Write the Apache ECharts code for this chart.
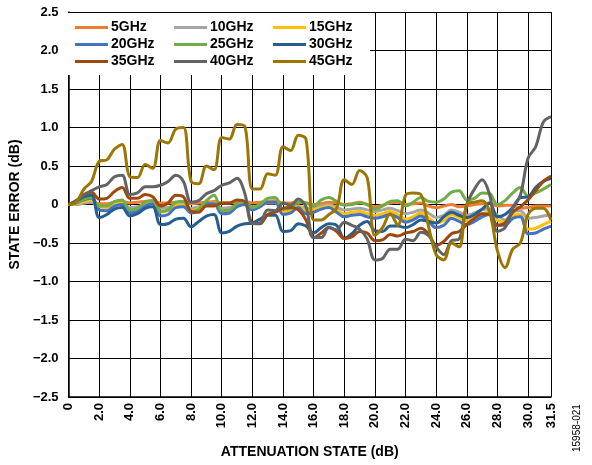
<!DOCTYPE html>
<html><head><meta charset="utf-8">
<script src="https://cdn.jsdelivr.net/npm/echarts@6/dist/echarts.min.js"></script>
<style>html,body{margin:0;padding:0;background:#fff}#c{width:592px;height:465px}</style>
</head><body><div id="c"></div>
<script>
const states = [];
for (let i = 0; i <= 63; i++) states.push(i * 0.5);
const seriesNames = ['5GHz','10GHz','15GHz','20GHz','25GHz','30GHz','35GHz','40GHz','45GHz'];
const s5 = [0,0.01,0.02,0.03,0.01,0.01,0.03,0.04,0.02,0.03,0.04,0.05,0.02,0.02,0.03,0.04,0.01,0.02,0.03,0.04,0.02,0.02,0.03,0.04,0.02,0.03,0.04,0.05,0.02,0.02,0.03,0.02,0.0,0.01,0.03,0.02,0.0,0.01,0.03,0.0,-0.03,-0.01,0.02,0.03,0.0,0.01,0.02,-0.02,-0.04,-0.02,0.0,-0.03,-0.02,0.0,0.01,0.02,-0.02,-0.01,-0.01,-0.05,-0.04,-0.02,-0.02,-0.02];
const s10 = [0,0.0,0.02,0.03,-0.02,-0.02,0.0,0.01,-0.04,-0.03,0.0,0.01,-0.05,-0.04,-0.01,0.0,-0.05,-0.03,0.0,0.01,-0.05,-0.04,-0.01,0.0,-0.03,-0.01,0.02,0.02,-0.06,-0.05,-0.02,-0.05,-0.04,-0.02,0.0,-0.04,-0.07,-0.06,-0.05,-0.07,-0.09,-0.07,-0.05,-0.08,-0.12,-0.1,-0.07,-0.11,-0.17,-0.14,-0.07,-0.1,-0.14,-0.11,-0.07,-0.06,-0.14,-0.2,-0.1,-0.08,-0.18,-0.17,-0.15,-0.13];
const s15 = [0,0.01,0.04,0.06,-0.02,-0.04,0.0,0.02,-0.07,-0.06,0.0,0.02,-0.1,-0.08,-0.02,-0.01,-0.08,-0.05,0.01,0.02,-0.08,-0.07,-0.01,0.01,-0.05,-0.02,0.03,0.03,-0.1,-0.08,-0.02,-0.08,-0.07,-0.04,-0.02,-0.07,-0.12,-0.1,-0.09,-0.12,-0.14,-0.12,-0.09,-0.13,-0.19,-0.16,-0.11,-0.17,-0.24,-0.21,-0.13,-0.17,-0.21,-0.17,-0.12,-0.1,-0.2,-0.23,-0.14,-0.13,-0.32,-0.31,-0.26,-0.22];
const s20 = [0,0.02,0.06,0.08,-0.07,-0.08,-0.02,0.0,-0.11,-0.09,-0.02,0.01,-0.15,-0.13,-0.04,-0.03,-0.11,-0.08,0.01,0.01,-0.12,-0.11,-0.03,0.0,-0.07,-0.03,0.03,0.03,-0.13,-0.11,-0.04,-0.12,-0.1,-0.06,-0.04,-0.1,-0.16,-0.14,-0.13,-0.16,-0.18,-0.16,-0.13,-0.17,-0.23,-0.2,-0.15,-0.22,-0.3,-0.27,-0.18,-0.22,-0.26,-0.22,-0.16,-0.13,-0.27,-0.27,-0.18,-0.16,-0.38,-0.37,-0.32,-0.28];
const s25 = [0,0.02,0.07,0.09,-0.02,-0.02,0.04,0.06,-0.07,-0.05,0.03,0.05,-0.09,-0.07,0.03,0.04,-0.09,-0.06,0.05,0.12,-0.08,-0.07,0.01,0.04,-0.04,0.0,0.08,0.09,-0.06,-0.05,0.03,0.02,-0.02,0.06,0.09,0.04,-0.01,0.0,0.02,0.0,-0.06,-0.02,0.04,0.05,-0.02,0.03,0.09,0.04,0.03,0.07,0.16,0.18,0.06,0.08,0.15,0.14,0.0,0.05,0.15,0.22,0.11,0.15,0.2,0.26];
const s30 = [0,0.04,0.1,0.12,-0.17,-0.13,-0.06,-0.04,-0.15,-0.12,-0.05,-0.03,-0.26,-0.25,-0.19,-0.18,-0.29,-0.22,-0.15,-0.13,-0.37,-0.35,-0.28,-0.25,-0.24,-0.19,-0.14,-0.14,-0.35,-0.34,-0.25,-0.28,-0.37,-0.3,-0.25,-0.27,-0.44,-0.38,-0.27,-0.22,-0.34,-0.35,-0.28,-0.28,-0.3,-0.26,-0.2,-0.22,-0.24,-0.16,-0.1,-0.14,-0.17,-0.13,-0.06,0.02,-0.16,-0.13,-0.04,0.09,0.1,0.22,0.3,0.34];
const s35 = [0,0.05,0.13,0.16,0.07,0.08,0.17,0.22,0.08,0.08,0.13,0.1,-0.02,0.02,0.12,0.1,-0.09,-0.1,-0.02,-0.02,0.02,0.02,0.06,0.04,-0.24,-0.25,-0.13,-0.1,-0.05,-0.04,-0.07,-0.2,-0.43,-0.37,-0.3,-0.35,-0.44,-0.42,-0.35,-0.37,-0.47,-0.46,-0.39,-0.41,-0.37,-0.35,-0.31,-0.38,-0.53,-0.48,-0.38,-0.35,-0.26,-0.18,-0.12,-0.13,-0.27,-0.24,-0.1,-0.03,0.06,0.18,0.3,0.37];
const s40 = [0,0.05,0.12,0.18,0.23,0.26,0.36,0.38,0.13,0.15,0.23,0.23,0.25,0.3,0.38,0.3,0.03,0.05,0.14,0.18,0.25,0.28,0.34,0.15,-0.25,-0.24,-0.07,-0.08,0.02,-0.01,0.07,-0.03,-0.43,-0.43,-0.3,-0.33,-0.23,-0.27,-0.32,-0.45,-0.72,-0.7,-0.58,-0.58,-0.45,-0.47,-0.36,-0.4,-0.55,-0.65,-0.47,-0.45,0.0,0.2,0.32,0.12,-0.35,-0.3,-0.05,0.12,0.6,0.75,1.07,1.14];
const s45 = [0,0.03,0.2,0.3,0.56,0.58,0.72,0.78,0.36,0.35,0.52,0.47,0.83,0.8,0.98,1.0,0.3,0.27,0.5,0.45,0.87,0.85,1.04,1.02,0.2,0.2,0.4,0.38,0.75,0.7,0.9,0.85,-0.2,-0.2,-0.13,-0.05,0.32,0.26,0.44,0.35,-0.4,-0.3,-0.12,-0.27,0.12,0.15,0.13,-0.28,-0.65,-0.72,-0.5,-0.55,0.0,0.03,0.05,-0.1,-0.6,-0.82,-0.58,-0.5,-0.13,-0.05,-0.05,-0.2];
const allSeries = [s5,s10,s15,s20,s25,s30,s35,s40,s45];
const colors = ['#ED7D31','#A5A5A5','#FFC000','#4472C4','#70AD47','#255E91','#9E480E','#636363','#9C7600'];

const chart = echarts.init(document.getElementById('c'), null, {renderer:'canvas'});
const font = 'Arial, "Liberation Sans", Helvetica, sans-serif';
const fmtY = v => v === 0 ? '0' : (v < 0 ? '\u2212' + Math.abs(v).toFixed(1) : v.toFixed(1));
const fmtX = v => v === 0 ? '0' : v.toFixed(1);
const legendCommon = {
  orient: 'vertical', top: 20, itemWidth: 33, itemHeight: 3, itemGap: 2, icon: 'rect',
  textStyle: {fontFamily: font, fontWeight: 'bold', fontSize: 14, color: '#000', lineHeight: 15, padding: [0,0,0,-2]},
  padding: 0, z: 10
};
chart.setOption({
  animation: false,
  color: colors,
  grid: {left: 67, right: 41, top: 12, bottom: 68, containLabel: false},
  legend: [
    Object.assign({}, legendCommon, {left: 75, data: ['5GHz','20GHz','35GHz']}),
    Object.assign({}, legendCommon, {left: 174, data: ['10GHz','25GHz','40GHz']}),
    Object.assign({}, legendCommon, {left: 273, data: ['15GHz','30GHz','45GHz']})
  ],
  graphic: [
    {type: 'rect', z: 5, shape: {x: 68, y: 13, width: 302, height: 62}, style: {fill: '#fff'}},
    {type: 'text', z: 10, x: 572, y: 452, rotation: Math.PI / 2,
     style: {text: '15958-021', fontFamily: font, fontSize: 10, fill: '#000', textAlign: 'left', textVerticalAlign: 'top'}}
  ],
  xAxis: {
    type: 'value', min: 0, max: 31.5, interval: 2,
    name: 'ATTENUATION STATE (dB)', nameLocation: 'middle', nameGap: 48,
    nameTextStyle: {fontFamily: font, fontWeight: 'bold', fontSize: 14, color: '#000'},
    axisLine: {onZero: false, lineStyle: {color: '#000', width: 1.5}},
    axisTick: {show: false},
    axisLabel: {rotate: 90, margin: 6, formatter: fmtX, fontFamily: font, fontWeight: 'bold', fontSize: 13, color: '#000', showMaxLabel: true, showMinLabel: true},
    splitLine: {show: true, lineStyle: {color: '#000', width: 1}}
  },
  yAxis: {
    type: 'value', min: -2.5, max: 2.5, interval: 0.5,
    name: 'STATE ERROR (dB)', nameLocation: 'middle', nameGap: 46, nameRotate: 90,
    nameTextStyle: {fontFamily: font, fontWeight: 'bold', fontSize: 14, color: '#000'},
    axisLine: {lineStyle: {color: '#000', width: 1.5}},
    axisTick: {show: false},
    axisLabel: {margin: 10, formatter: fmtY, fontFamily: font, fontWeight: 'bold', fontSize: 13, color: '#000'},
    splitLine: {show: true, lineStyle: {color: '#000', width: 1}}
  },
  series: seriesNames.map((n, i) => ({
    name: n, type: 'line', smooth: 0.35, symbol: 'none',
    lineStyle: {width: 3, color: colors[i]}, itemStyle: {color: colors[i]},
    data: states.map((x, j) => [x, allSeries[i][j]]), z: 2 + i
  }))
});
</script></body></html>
